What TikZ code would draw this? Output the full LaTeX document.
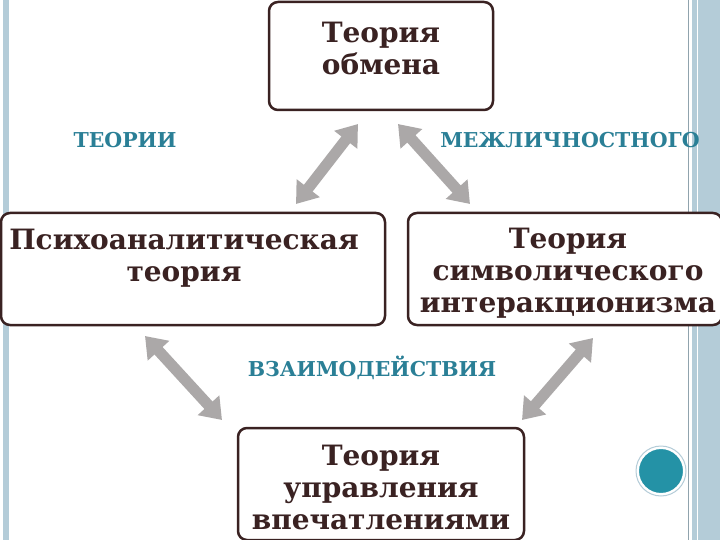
\documentclass[tikz,border=0pt]{standalone}
\usepackage{fontspec}
\setmainfont{DejaVu Serif}
\usetikzlibrary{arrows.meta}
\definecolor{txt}{HTML}{3A2222}
\definecolor{teal}{HTML}{2A7F96}
\definecolor{stripe}{HTML}{B4CCD8}
\definecolor{arr}{HTML}{ABA8A8}
\begin{document}
\begin{tikzpicture}[x=1pt,y=-1pt,
  tbox/.style={draw=txt,line width=2.5pt,rounded corners=9pt,fill=white},
  ttext/.style={text=txt,font=\bfseries\fontsize{28}{32}\selectfont,align=center},
  lab/.style={text=teal,font=\bfseries\fontsize{20.5}{24}\selectfont},
  dbl/.style={draw=arr,line width=11pt,{Triangle[length=20pt,width=28pt]}-{Triangle[length=20pt,width=28pt]}}]
\useasboundingbox (0,0) rectangle (720,540);
\fill[white] (0,0) rectangle (720,540);
% stripes
\fill[stripe] (3,0) rectangle (9,540);
\fill[stripe] (692,0) rectangle (720,540);
\draw[stripe!80!black,line width=0.6pt] (688,0) -- (688,540);
\draw[white,line width=1pt] (697,0) -- (697,540);
% boxes
\draw[tbox] (269,2) rectangle (493,110);
\node[ttext] (top) at (381,48) {Теория\\обмена};
\draw[tbox] (1,213) rectangle (385,325);
\node[ttext] (left) at (184,258) {Психоаналитическая\\теория};
\draw[tbox] (408,213) rectangle (722,325);
\node[ttext] (right) at (568,273) {Теория\\символического\\интеракционизма};
\draw[tbox] (238,428) rectangle (524,540);
\node[ttext] (bot) at (381,487) {Теория\\управления\\впечатлениями};
% labels
\node[lab] (l1) at (125,140) {ТЕОРИИ};
\node[lab] (l2) at (570,140) {МЕЖЛИЧНОСТНОГО};
\node[lab] (l3) at (372,368) {ВЗАИМОДЕЙСТВИЯ};
% arrows
\coordinate (a1) at (358,124); \coordinate (a2) at (296,204);
\coordinate (b1) at (398,124); \coordinate (b2) at (470,204);
\coordinate (c1) at (145,336); \coordinate (c2) at (222,420);
\coordinate (d1) at (593,338); \coordinate (d2) at (522,420);
\draw[dbl] (a1) -- (a2);
\draw[dbl] (b1) -- (b2);
\draw[dbl] (c1) -- (c2);
\draw[dbl] (d1) -- (d2);
% circle
\node[circle,fill=teal!85!cyan,draw=white,line width=2pt,minimum size=46pt,inner sep=0pt] (dot) at (661,471) {};
\draw[stripe,line width=1pt] (dot) circle (25pt);
\end{tikzpicture}
\end{document}
